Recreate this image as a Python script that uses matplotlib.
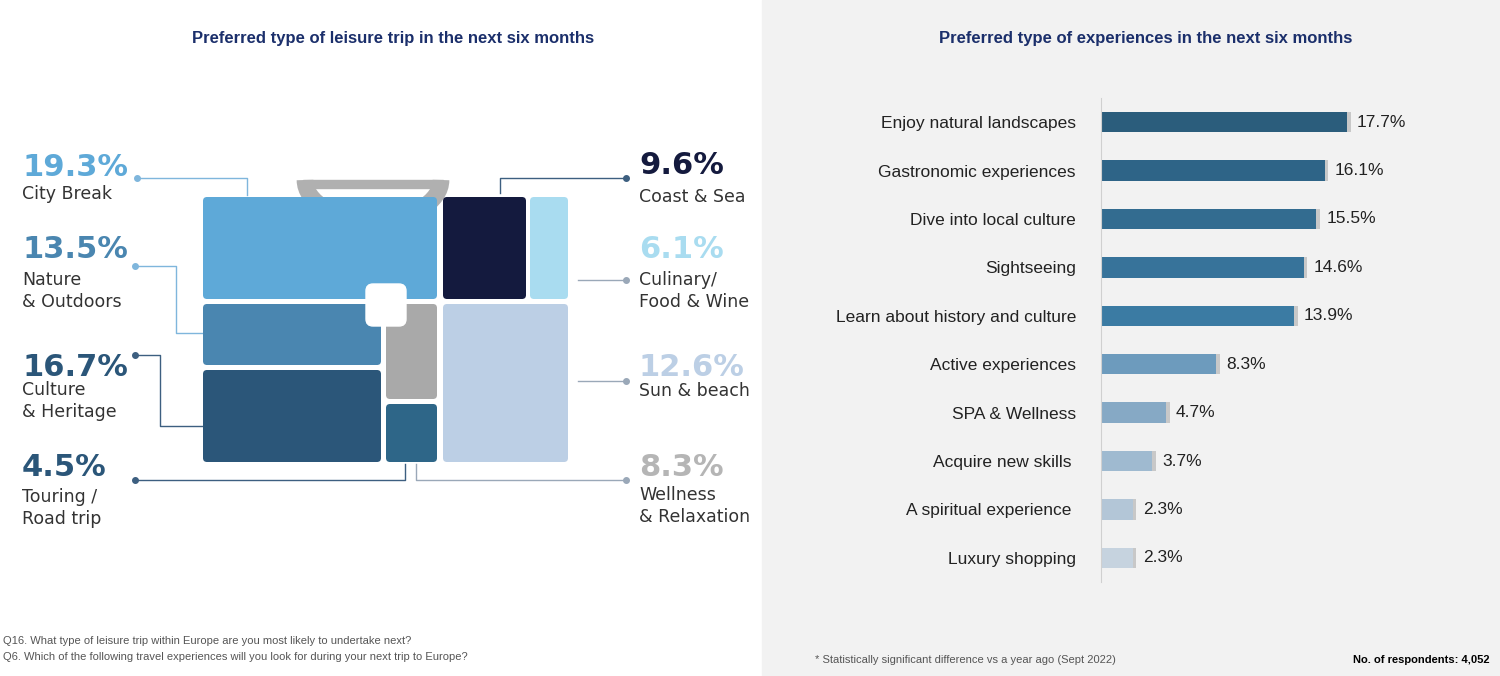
import matplotlib.pyplot as plt
from matplotlib.patches import FancyBboxPatch, Rectangle, Arc

plt.rcParams['font.family'] = ['Liberation Sans', 'DejaVu Sans']

# left panel data
trip_values = ['19.3%', '13.5%', '16.7%', '4.5%', '9.6%', '6.1%', '12.6%', '8.3%']
trip_labels = ['City Break', 'Nature\n& Outdoors', 'Culture\n& Heritage', 'Touring /\nRoad trip',
               'Coast & Sea', 'Culinary/\nFood & Wine', 'Sun & beach', 'Wellness\n& Relaxation']
trip_colors = ['#5ea9d8', '#4a86b0', '#2b5679', '#2e6688', '#141a3e', '#a9dcf0', '#bccfe5', '#a9a9a9']
text_colors = ['#5ea9d8', '#4a86b0', '#2b5679', '#2b5679', '#141a3e', '#a9dcf0', '#bccfe5', '#b5b5b5']

# right panel data
experiences = ['Enjoy natural landscapes', 'Gastronomic experiences', 'Dive into local culture',
               'Sightseeing', 'Learn about history and culture', 'Active experiences',
               'SPA & Wellness', 'Acquire new skills ', 'A spiritual experience ', 'Luxury shopping']
exp_values = [17.7, 16.1, 15.5, 14.6, 13.9, 8.3, 4.7, 3.7, 2.3, 2.3]
bar_colors = ['#2b5d7c', '#2e6487', '#336c90', '#37739a', '#3b7ba3', '#6d9bbd',
              '#86a9c5', '#9fbad0', '#b3c6d7', '#c6d3df']

fig = plt.figure(figsize=(15, 6.76), dpi=100)
bg = fig.add_axes([0, 0, 1, 1])
bg.set_xlim(0, 1500)
bg.set_ylim(676, 0)
bg.axis('off')
bg.add_patch(Rectangle((762, 0), 738, 676, color='#f2f2f2', zorder=0))

navy = '#1b2f6b'
bg.text(393, 38, 'Preferred type of leisure trip in the next six months', ha='center', va='center',
        fontsize=12, fontweight='bold', color=navy)
bg.text(1146, 38, 'Preferred type of experiences in the next six months', ha='center', va='center',
        fontsize=12, fontweight='bold', color=navy)

# suitcase blocks: (x, y, w, h, color index)
blocks = [(203, 197, 234, 102, 0), (203, 304, 178, 61, 1), (203, 370, 178, 92, 2),
          (386, 404, 51, 58, 3), (443, 197, 83, 102, 4), (530, 197, 38, 102, 5),
          (443, 304, 125, 158, 6), (386, 304, 51, 95, 7)]
for x, y, w, h, i in blocks:
    bg.add_patch(FancyBboxPatch((x, y), w, h, boxstyle='round,pad=0,rounding_size=4',
                                color=trip_colors[i], zorder=2, lw=0))
# rounded outer corners
for cx, cy in [(203, 197), (548, 197), (203, 442), (548, 442)]:
    pass
bg.add_patch(Arc((373, 180), 136, 80, theta1=0, theta2=180, lw=12, color='#b0b0b0', zorder=1))
bg.add_patch(Rectangle((303, 180), 140, 8, color='#b0b0b0', zorder=1))
bg.add_patch(FancyBboxPatch((366, 284), 40, 42, boxstyle='round,pad=0,rounding_size=7',
                            color='white', zorder=3))

# labels and leader lines
pos = [(22, 168, 194), (22, 250, 291), (22, 368, 401), (22, 468, 508),
       (639, 166, 197), (639, 250, 291), (639, 368, 391), (639, 468, 506)]
leaders = [[(137, 178), (247, 178), (247, 195)], [(135, 266), (176, 266), (176, 333), (203, 333)],
           [(135, 355), (160, 355), (160, 426), (203, 426)], [(135, 480), (405, 480), (405, 464)],
           [(626, 178), (500, 178), (500, 193)], [(626, 280), (578, 280)],
           [(626, 381), (578, 381)], [(626, 480), (416, 480), (416, 464)]]
for i in range(8):
    x, yv, yl = pos[i]
    bg.text(x, yv, trip_values[i], ha='left', va='center', fontsize=22, fontweight='bold',
            color=text_colors[i], family='DejaVu Sans')
    bg.text(x, yl, trip_labels[i], ha='left', va='center', fontsize=12.5, color='#333333',
            family='DejaVu Sans', linespacing=1.3)
    xs = [p[0] for p in leaders[i]]
    ys = [p[1] for p in leaders[i]]
    c = '#8fb8d4' if i < 4 else '#9aa8b8'
    if i in (0, 1):
        c = '#7fb6dc'
    if i in (2, 3, 4):
        c = '#3d5f80'
    bg.plot(xs, ys, color=c, lw=1, zorder=1)
    bg.plot(xs[0], ys[0], 'o', color=c, ms=4, zorder=1)

bg.text(3, 641, 'Q16. What type of leisure trip within Europe are you most likely to undertake next?',
        fontsize=8, color='#555555', va='center')
bg.text(3, 657, 'Q6. Which of the following travel experiences will you look for during your next trip to Europe?',
        fontsize=8, color='#555555', va='center')
bg.text(815, 660, '* Statistically significant difference vs a year ago (Sept 2022)',
        fontsize=8, color='#555555', va='center')
bg.text(1490, 660, 'No. of respondents: 4,052', fontsize=8, fontweight='bold', color='black',
        va='center', ha='right')

# bar chart
ax = fig.add_axes([1101 / 1500, 1 - 582 / 676, 278 / 1500, (582 - 98) / 676])
ax.patch.set_alpha(0)
ypos = list(range(len(experiences)))
ax.barh(ypos, [v + 0.25 for v in exp_values], height=0.42, color='#c8c8c8', left=0)
ax.barh(ypos, exp_values, height=0.42, color=bar_colors)
for y, v in zip(ypos, exp_values):
    ax.text(v + 0.7, y, f'{v}%', va='center', ha='left', fontsize=12.5, color='#222222')
ax.set_xlim(0, 20)
ax.set_ylim(len(experiences) - 0.5, -0.5)
ax.set_yticks(ypos)
ax.set_yticklabels(experiences, fontsize=12.5, color='#222222')
ax.tick_params(axis='y', length=0, pad=18)
ax.set_xticks([])
for s in ['top', 'right', 'bottom']:
    ax.spines[s].set_visible(False)
ax.spines['left'].set_color('#d0d0d0')

fig.savefig('out.png', dpi=100)
